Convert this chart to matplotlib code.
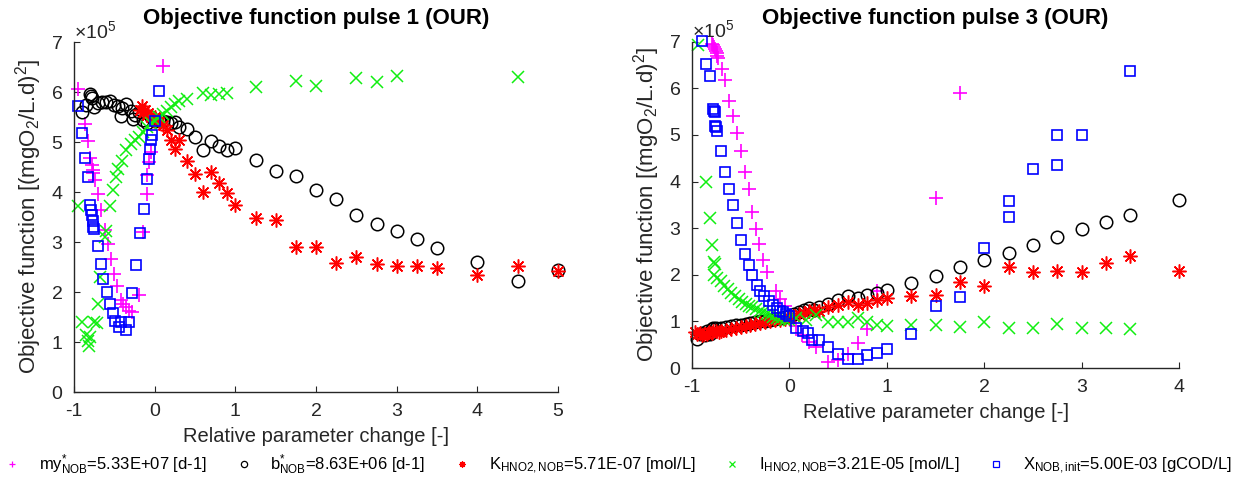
import matplotlib
matplotlib.use("Agg")
import matplotlib.pyplot as plt
from matplotlib.lines import Line2D
from matplotlib.ticker import ScalarFormatter, FixedLocator

plt.rcParams['font.family'] = ['Liberation Sans', 'DejaVu Sans']
plt.rcParams['mathtext.fontset'] = 'custom'
plt.rcParams['mathtext.rm'] = 'Liberation Sans'
plt.rcParams['mathtext.it'] = 'Liberation Sans:italic'
plt.rcParams['mathtext.bf'] = 'Liberation Sans:bold'
plt.rcParams['axes.unicode_minus'] = False

SCALE = 1e5  # objective values below are in units of 1e5 (mgO2/L.d)^2

# ---------------- pulse 1 ----------------
p1_my_x = [-0.95, -0.87, -0.83, -0.8, -0.78, -0.77, -0.76, -0.74, -0.7, -0.66, -0.62, -0.58,
           -0.54, -0.5, -0.47, -0.42, -0.39, -0.35, -0.32, -0.28, -0.2, -0.14, -0.1, -0.09,
           -0.07, -0.05, 0.1]
p1_my_y = [6.07, 5.37, 5.02, 4.68, 4.55, 4.45, 4.38, 4.25, 3.97, 3.64, 3.24, 2.97,
           2.67, 2.37, 2.12, 1.84, 1.77, 1.7, 1.63, 1.6, 1.94, 3.2, 3.97, 4.34,
           4.6, 4.8, 6.53]

p1_b_x = [-0.9, -0.85, -0.8, -0.79, -0.78, -0.75, -0.7, -0.65, -0.6, -0.55, -0.5, -0.45,
          -0.42, -0.4, -0.35, -0.3, -0.27, -0.25, -0.2, -0.15, -0.1, -0.05, 0, 0.05,
          0.1, 0.15, 0.2, 0.25, 0.3, 0.4, 0.5, 0.6, 0.7, 0.8, 0.9, 1.0,
          1.25, 1.5, 1.75, 2.0, 2.25, 2.5, 2.75, 3.0, 3.25, 3.5, 4.0, 4.5, 5.0]
p1_b_y = [5.6, 5.75, 5.97, 5.92, 5.88, 5.7, 5.78, 5.8, 5.8, 5.83, 5.75, 5.72,
          5.53, 5.68, 5.77, 5.63, 5.47, 5.55, 5.6, 5.45, 5.38, 5.5, 5.42, 5.45,
          5.42, 5.4, 5.38, 5.4, 5.3, 5.27, 5.1, 4.85, 5.03, 4.93, 4.85, 4.89,
          4.65, 4.42, 4.32, 4.05, 3.87, 3.55, 3.37, 3.22, 3.07, 2.89, 2.6, 2.23, 2.45]

p1_k_x = [-0.18, -0.16, -0.14, -0.12, -0.1, -0.08, -0.05, -0.02, 0, 0.05, 0.1, 0.15,
          0.2, 0.25, 0.3, 0.4, 0.5, 0.6, 0.7, 0.8, 0.9, 1.0,
          1.25, 1.5, 1.75, 2.0, 2.25, 2.5, 2.75, 3.0, 3.25, 3.5, 4.0, 4.5, 5.0]
p1_k_y = [5.65, 5.73, 5.6, 5.65, 5.55, 5.58, 5.5, 5.45, 5.5, 5.4, 5.35, 5.25,
          5.04, 4.87, 5.04, 4.63, 4.36, 4.0, 4.41, 4.18, 3.99, 3.75,
          3.48, 3.45, 2.91, 2.91, 2.58, 2.7, 2.56, 2.53, 2.53, 2.48, 2.35, 2.53, 2.42]

p1_i_x = [-0.95, -0.9, -0.85, -0.83, -0.82, -0.8, -0.75, -0.72, -0.7, -0.68, -0.62, -0.6,
          -0.55, -0.52, -0.48, -0.45, -0.4, -0.35, -0.3, -0.25, -0.2, -0.15, -0.1, -0.05,
          0, 0.05, 0.1, 0.15, 0.2, 0.25, 0.3, 0.4, 0.6, 0.7, 0.8, 0.9,
          1.25, 1.75, 2.0, 2.5, 2.75, 3.0, 4.5]
p1_i_y = [3.72, 1.41, 1.14, 1.03, 0.93, 1.1, 1.41, 1.38, 1.77, 2.3, 3.1, 3.22,
          3.72, 4.05, 4.3, 4.47, 4.63, 4.85, 4.97, 5.05, 5.1, 5.2, 5.3, 5.38,
          5.43, 5.5, 5.57, 5.63, 5.7, 5.77, 5.83, 5.87, 5.99, 5.94, 5.97, 5.99,
          6.1, 6.23, 6.13, 6.29, 6.2, 6.33, 6.31]

p1_x_x = [-0.95, -0.9, -0.87, -0.83, -0.8, -0.79, -0.78, -0.77, -0.76, -0.75, -0.7, -0.66,
          -0.64, -0.59, -0.55, -0.52, -0.49, -0.44, -0.42, -0.35, -0.32, -0.28, -0.23, -0.18,
          -0.13, -0.09, -0.07, -0.06, -0.04, -0.03, 0, 0.05]
p1_x_y = [5.72, 5.19, 4.69, 4.3, 3.75, 3.65, 3.55, 3.42, 3.3, 3.27, 2.92, 2.57,
          2.27, 2.0, 1.77, 1.59, 1.43, 1.3, 1.4, 1.24, 1.4, 1.98, 2.55, 3.19,
          3.67, 4.27, 4.67, 4.87, 5.05, 5.15, 5.43, 6.02]

# ---------------- pulse 3 ----------------
p3_my_x = [-0.8, -0.78, -0.77, -0.76, -0.75, -0.74, -0.74, -0.73, -0.69, -0.66, -0.62, -0.58,
           -0.54, -0.5, -0.46, -0.42, -0.38, -0.34, -0.31, -0.27, -0.23, -0.14, -0.1, -0.05,
           0.07, 0.13, 0.2, 0.27, 0.4, 0.5, 0.6, 0.7, 0.8, 0.9, 1.5, 1.75]
p3_my_y = [6.95, 6.92, 6.88, 6.84, 6.8, 6.75, 6.7, 6.65, 6.42, 6.17, 5.72, 5.41,
           5.05, 4.66, 4.2, 3.84, 3.35, 2.99, 2.65, 2.32, 2.07, 1.66, 1.47, 1.32,
           0.9, 0.7, 0.55, 0.45, 0.12, 0.18, 0.3, 0.53, 0.83, 1.65, 3.65, 5.9]

p3_b_x = [-0.95, -0.92, -0.9, -0.87, -0.85, -0.82, -0.8, -0.78, -0.75, -0.7, -0.65, -0.6,
          -0.55, -0.5, -0.45, -0.4, -0.35, -0.3, -0.25, -0.2, -0.15, -0.1, -0.05, 0,
          0.05, 0.1, 0.15, 0.2, 0.25, 0.3, 0.4, 0.5, 0.6, 0.7, 0.8, 0.9, 1.0,
          1.25, 1.5, 1.75, 2.0, 2.25, 2.5, 2.75, 3.0, 3.25, 3.5, 4.0]
p3_b_y = [0.63, 0.72, 0.75, 0.7, 0.8, 0.74, 0.83, 0.86, 0.85, 0.85, 0.88, 0.9,
          0.92, 0.93, 0.95, 0.97, 0.98, 1.0, 1.01, 1.03, 1.05, 1.07, 1.09, 1.12,
          1.15, 1.2, 1.25, 1.28, 1.25, 1.3, 1.38, 1.45, 1.55, 1.5, 1.57, 1.6, 1.68,
          1.82, 1.98, 2.16, 2.31, 2.47, 2.64, 2.8, 2.99, 3.14, 3.29, 3.6]

p3_k_x = [-0.97, -0.95, -0.92, -0.9, -0.88, -0.85, -0.83, -0.8, -0.78, -0.75, -0.72, -0.7,
          -0.65, -0.6, -0.55, -0.5, -0.45, -0.4, -0.35, -0.3, -0.25, -0.2, -0.15, -0.1,
          -0.05, 0, 0.05, 0.1, 0.15, 0.2, 0.25, 0.3, 0.4, 0.5, 0.6, 0.7, 0.8, 0.9, 1.0,
          1.25, 1.5, 1.75, 2.0, 2.25, 2.5, 2.75, 3.0, 3.25, 3.5, 4.0]
p3_k_y = [0.77, 0.72, 0.76, 0.7, 0.74, 0.72, 0.77, 0.76, 0.79, 0.8, 0.78, 0.8,
          0.82, 0.84, 0.86, 0.88, 0.9, 0.92, 0.94, 0.96, 0.98, 1.0, 1.02, 1.04,
          1.06, 1.08, 1.12, 1.15, 1.18, 1.22, 1.25, 1.23, 1.3, 1.35, 1.42, 1.35, 1.4, 1.45, 1.5,
          1.55, 1.57, 1.84, 1.76, 2.16, 2.06, 2.09, 2.06, 2.25, 2.41, 2.09]

p3_i_x = [-0.94, -0.86, -0.82, -0.79, -0.77, -0.76, -0.77, -0.74, -0.7, -0.67, -0.63, -0.6,
          -0.56, -0.52, -0.49, -0.45, -0.42, -0.38, -0.34, -0.3, -0.27, -0.23, -0.2, -0.17,
          -0.13, -0.1, -0.05, 0, 0.07, 0.17, 0.27, 0.4, 0.5, 0.6, 0.7, 0.8, 0.9, 1.0,
          1.25, 1.5, 1.75, 2.0, 2.25, 2.5, 2.75, 3.0, 3.25, 3.5]
p3_i_y = [6.93, 3.99, 3.21, 2.63, 2.27, 2.24, 2.0, 1.93, 1.86, 1.76, 1.69, 1.6,
          1.55, 1.47, 1.42, 1.37, 1.33, 1.3, 1.26, 1.22, 1.2, 1.16, 1.13, 1.1,
          1.08, 1.06, 1.04, 1.02, 1.07, 1.04, 1.14, 0.98, 0.98, 0.98, 1.07, 0.98, 0.93, 0.91,
          0.93, 0.93, 0.87, 0.98, 0.86, 0.86, 0.95, 0.86, 0.86, 0.84]

p3_x_x = [-0.9, -0.86, -0.82, -0.78, -0.77, -0.76, -0.76, -0.75, -0.74, -0.7, -0.66, -0.62,
          -0.58, -0.54, -0.5, -0.46, -0.42, -0.38, -0.33, -0.3, -0.26, -0.21, -0.17, -0.13,
          -0.1, -0.07, -0.04, 0, 0.07, 0.14, 0.19, 0.23, 0.3, 0.4, 0.5, 0.6, 0.7, 0.8, 0.9, 1.0,
          1.25, 1.5, 1.75, 2.0, 2.25, 2.25, 2.5, 2.75, 2.75, 3.0, 3.5]
p3_x_y = [7.01, 6.52, 6.27, 5.55, 5.52, 5.5, 5.2, 5.17, 5.08, 4.66, 4.2, 3.84,
          3.5, 3.12, 2.75, 2.45, 2.2, 2.0, 1.77, 1.66, 1.55, 1.43, 1.36, 1.28,
          1.22, 1.2, 1.15, 1.12, 0.86, 0.79, 0.75, 0.61, 0.61, 0.46, 0.29, 0.19, 0.19, 0.27, 0.32, 0.4,
          0.73, 1.34, 1.52, 2.57, 3.24, 3.58, 4.26, 4.36, 5.0, 5.0, 6.37]

legend_labels = [
    r'my$^{*}_{\mathregular{NOB}}$=5.33E+07 [d-1]',
    r'b$^{*}_{\mathregular{NOB}}$=8.63E+06 [d-1]',
    r'K$_{\mathregular{HNO2,NOB}}$=5.71E-07 [mol/L]',
    r'I$_{\mathregular{HNO2,NOB}}$=3.21E-05 [mol/L]',
    r'X$_{\mathregular{NOB,init}}$=5.00E-03 [gCOD/L]',
]

STAR = (8, 2, 0)
styles = [
    dict(marker='+', color='#ff00ff', ms=10, mew=1.2, mfc='none'),
    dict(marker='o', color='black', ms=9, mew=1.1, mfc='none'),
    dict(marker=STAR, color='#ff0000', ms=10, mew=1.1, mfc='none'),
    dict(marker='x', color='#11ee11', ms=8, mew=1.1, mfc='none'),
    dict(marker='s', color='#0000ff', ms=7.5, mew=1.2, mfc='none'),
]

AX_COLOR = '#262626'


def draw_panel(ax, series, title, xmax):
    for (xs, ys), st in zip(series, styles):
        ax.plot(xs, [v * SCALE for v in ys], linestyle='none', clip_on=False, **st)
    ax.set_xlim(-1, xmax)
    ax.set_ylim(0, 7 * SCALE)
    ax.xaxis.set_major_locator(FixedLocator(list(range(-1, xmax + 1))))
    ax.yaxis.set_major_locator(FixedLocator([i * SCALE for i in range(8)]))
    fmt = ScalarFormatter(useMathText=True)
    fmt.set_powerlimits((0, 0))
    ax.yaxis.set_major_formatter(fmt)
    ax.yaxis.get_offset_text().set_fontsize(14)
    ax.yaxis.get_offset_text().set_color('#555555')
    for side in ('top', 'right'):
        ax.spines[side].set_visible(False)
    for side in ('left', 'bottom'):
        ax.spines[side].set_color(AX_COLOR)
        ax.spines[side].set_linewidth(1.0)
    ax.tick_params(direction='in', length=4, width=0.8, colors=AX_COLOR,
                   labelsize=14, pad=8)
    ax.set_title(title, fontsize=16, fontweight='bold', pad=13)
    ax.set_xlabel('Relative parameter change [-]', fontsize=14.5, color=AX_COLOR, labelpad=5)
    ax.set_ylabel(r'Objective function [(mgO$_{\mathregular{2}}$/L.d)$^{\mathregular{2}}$]',
                  fontsize=16, color=AX_COLOR, labelpad=5)


fig = plt.figure(figsize=(12.34, 4.82), dpi=100)
ax1 = fig.add_axes([0.0600, 0.1867, 0.3922, 0.7261])
ax2 = fig.add_axes([0.5608, 0.2365, 0.3947, 0.6770])

draw_panel(ax1, [(p1_my_x, p1_my_y), (p1_b_x, p1_b_y), (p1_k_x, p1_k_y),
                 (p1_i_x, p1_i_y), (p1_x_x, p1_x_y)],
           'Objective function pulse 1 (OUR)', 5)
draw_panel(ax2, [(p3_my_x, p3_my_y), (p3_b_x, p3_b_y), (p3_k_x, p3_k_y),
                 (p3_i_x, p3_i_y), (p3_x_x, p3_x_y)],
           'Objective function pulse 3 (OUR)', 4)

handles = [Line2D([], [], linestyle='none', marker=st['marker'], color=st['color'],
                  mfc='none', ms=4.5, mew=0.9) for st in styles]
fig.legend(handles, legend_labels, loc='lower center', bbox_to_anchor=(0.5, -0.02),
           ncol=5, frameon=False, fontsize=12, handlelength=1.2, handletextpad=1.0,
           columnspacing=1.6)

fig.savefig('out.png', dpi=100)
